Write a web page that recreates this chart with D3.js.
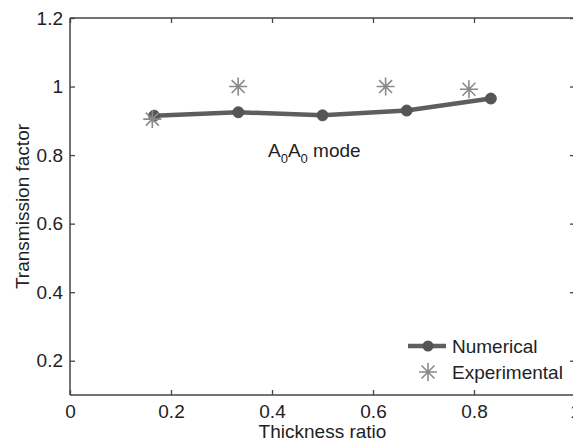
<!DOCTYPE html>
<html><head><meta charset="utf-8">
<script src="https://cdn.jsdelivr.net/npm/d3@7"></script>
<style>
body{margin:0;background:#fff;}
text{font-family:"Liberation Sans",Arial,sans-serif;fill:#222;}
</style></head>
<body><svg id="c" width="573" height="442"></svg>
<script>
const numX = [1/6, 1/3, 1/2, 2/3, 5/6];
const numY = [0.915, 0.925, 0.916, 0.93, 0.965];
const expX = [0.163, 0.333, 0.625, 0.79];
const expY = [0.905, 1.0, 1.0, 0.992];
const xTicks = [0, 0.2, 0.4, 0.6, 0.8, 1];
const yTicks = [0.2, 0.4, 0.6, 0.8, 1, 1.2];
const xTickLabels = ["0", "0.2", "0.4", "0.6", "0.8", "1"];
const yTickLabels = ["0.2", "0.4", "0.6", "0.8", "1", "1.2"];

const svg = d3.select("#c");
const L = 70, R = 575, T = 18, B = 395;
const x = d3.scaleLinear().domain([0, 1]).range([L, R]);
const y = d3.scaleLinear().domain([0.1, 1.2]).range([B, T]);
const axisColor = "#444";

// axes (ticks inward, mirrored)
const fmtX = (d, i) => xTickLabels[i];
const fmtY = (d, i) => yTickLabels[i];
const gB = svg.append("g").attr("transform", `translate(0,${B})`)
  .call(d3.axisBottom(x).tickValues(xTicks).tickFormat(fmtX).tickSizeInner(-5).tickSizeOuter(0).tickPadding(10));
const gT = svg.append("g").attr("transform", `translate(0,${T})`)
  .call(d3.axisTop(x).tickValues(xTicks).tickFormat("").tickSizeInner(-5).tickSizeOuter(0));
const gL = svg.append("g").attr("transform", `translate(${L},0)`)
  .call(d3.axisLeft(y).tickValues(yTicks).tickFormat(fmtY).tickSizeInner(-5).tickSizeOuter(0).tickPadding(7));
const gR = svg.append("g").attr("transform", `translate(${R},0)`)
  .call(d3.axisRight(y).tickValues(yTicks).tickFormat("").tickSizeInner(-5).tickSizeOuter(0));
[gB, gT, gL, gR].forEach(g => {
  g.selectAll("path.domain").attr("stroke", axisColor).attr("stroke-width", 1.5);
  g.selectAll(".tick line").attr("stroke", axisColor).attr("stroke-width", 1.3);
  g.selectAll(".tick text").attr("font-size", 19).attr("fill", "#222")
   .attr("font-family", '"Liberation Sans",Arial,sans-serif');
});
// make domain lines span full box
gB.select("path.domain").attr("d", `M${L},0H${R}`);
gT.select("path.domain").attr("d", `M${L},0H${R}`);
gL.select("path.domain").attr("d", `M0,${T}V${B}`);
gR.select("path.domain").attr("d", `M0,${T}V${B}`);

// axis titles
svg.append("text").attr("x", (L + R) / 2).attr("y", 438).attr("text-anchor", "middle")
  .attr("font-size", 19).text("Thickness ratio");
svg.append("text").attr("transform", `translate(29,${(T + B) / 2}) rotate(-90)`)
  .attr("text-anchor", "middle").attr("font-size", 19).text("Transmission factor");

// numerical line
const lineColor = "#5e5e5e";
svg.append("path").datum(numX.map((d, i) => [d, numY[i]]))
  .attr("fill", "none").attr("stroke", lineColor).attr("stroke-width", 4.5)
  .attr("stroke-linejoin", "round")
  .attr("d", d3.line().x(d => x(d[0])).y(d => y(d[1])));
svg.selectAll("circle.num").data(numX).enter().append("circle")
  .attr("class", "num").attr("cx", d => x(d)).attr("cy", (d, i) => y(numY[i]))
  .attr("r", 5.5).attr("fill", "#555").attr("stroke", "#555").attr("stroke-width", 1);

// star marker
function star(g, cx, cy, s) {
  const c = "#8a8a8a";
  const p = `M${cx - s},${cy}H${cx + s}M${cx},${cy - s}V${cy + s}` +
    `M${cx - s * 0.72},${cy - s * 0.72}L${cx + s * 0.72},${cy + s * 0.72}` +
    `M${cx - s * 0.72},${cy + s * 0.72}L${cx + s * 0.72},${cy - s * 0.72}`;
  g.append("path").attr("d", p).attr("stroke", c).attr("stroke-width", 1.6).attr("fill", "none");
}
const gs = svg.append("g");
expX.forEach((d, i) => star(gs, x(d), y(expY[i]), 9));

// annotation A0A0 mode
const ann = svg.append("text").attr("x", 268).attr("y", 157).attr("font-size", 19);
ann.append("tspan").text("A");
ann.append("tspan").attr("font-size", 13).attr("dy", 6).text("0");
ann.append("tspan").attr("dy", -6).text("A");
ann.append("tspan").attr("font-size", 13).attr("dy", 6).text("0");
ann.append("tspan").attr("dy", -6).text(" mode");

// legend
svg.append("line").attr("x1", 408).attr("x2", 446).attr("y1", 346).attr("y2", 346)
  .attr("stroke", lineColor).attr("stroke-width", 4.5);
svg.append("circle").attr("cx", 428).attr("cy", 346).attr("r", 5.5).attr("fill", "#555");
star(svg, 428, 372, 9);
svg.append("text").attr("x", 452).attr("y", 346).attr("dy", "0.35em").attr("font-size", 19).text("Numerical");
svg.append("text").attr("x", 452).attr("y", 372).attr("dy", "0.35em").attr("font-size", 19).text("Experimental");
</script></body></html>
